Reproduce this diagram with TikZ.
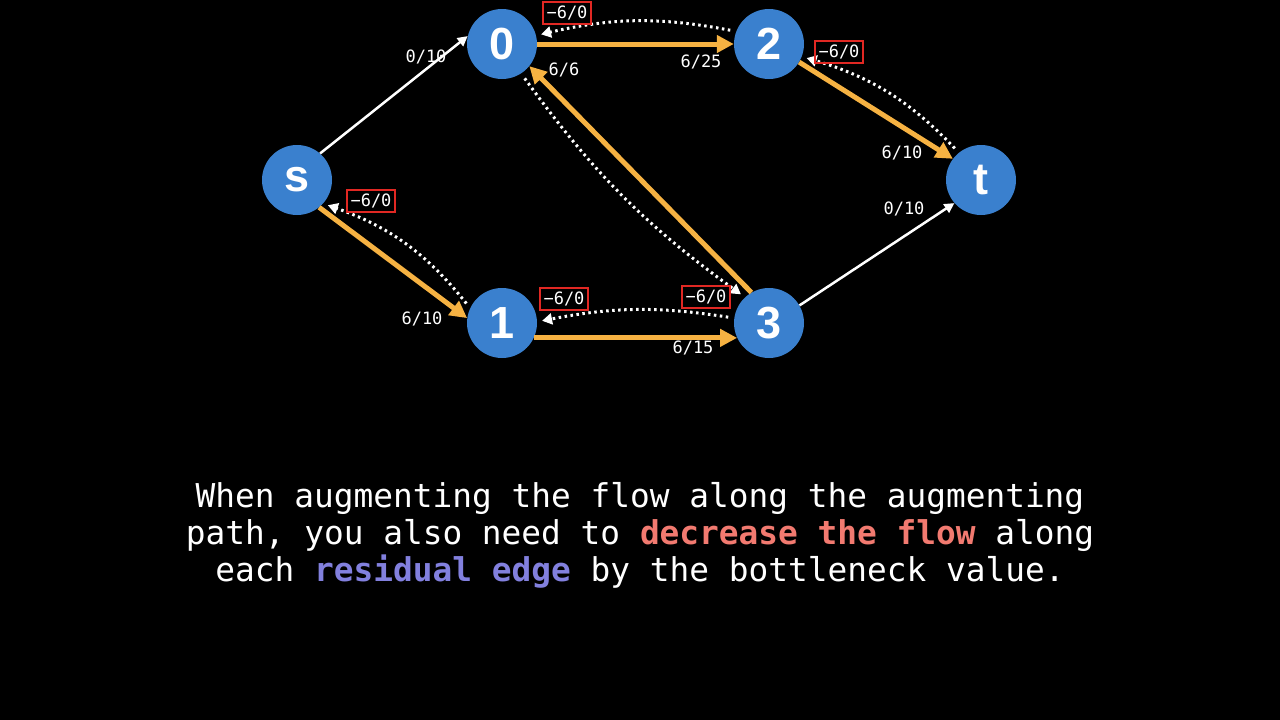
\documentclass[tikz,border=0pt]{standalone}
\usepackage{fontspec}
\newfontfamily\monofont{DejaVu Sans Mono}
\newfontfamily\nodefont{Liberation Sans}
\usetikzlibrary{arrows.meta}
\definecolor{nodeblue}{RGB}{58,128,206}
\definecolor{pathorange}{RGB}{246,178,66}
\definecolor{boxred}{RGB}{225,40,35}
\definecolor{textpink}{RGB}{242,122,112}
\definecolor{textpurple}{RGB}{130,128,222}

\begin{document}
\begin{tikzpicture}%
        [x=1pt, y=-1pt,
         vertex/.style={circle, fill=nodeblue, minimum size=70pt, inner sep=0pt,
                        text=white, font=\nodefont\bfseries\fontsize{45}{45}\selectfont},
         edge/.style={white, line width=2.5pt, -{Triangle[length=10pt,width=10pt]}},
         flow/.style={pathorange, line width=5pt, -{Triangle[length=17pt,width=17pt]}},
         resid/.style={white, line width=3pt, dash pattern=on 2.5pt off 3.5pt,
                       shorten <=6pt, shorten >=5pt, -{Triangle[length=10pt,width=11pt]}},
         lbl/.style={text=white, font=\monofont\fontsize{17}{17}\selectfont, inner sep=1pt},
         neglbl/.style={lbl, draw=boxred, line width=2pt, inner xsep=4pt, inner ysep=4pt},
         caption/.style={text=white, align=center,
                         font=\monofont\fontsize{32.8}{37}\selectfont}]
        \fill[black] (0,0) rectangle (1280,720);
        \useasboundingbox (0,0) rectangle (1280,720);

        \node[vertex] (s)  at (297,180) {s};
        \node[vertex] (v0) at (502,44)  {0};
        \node[vertex] (v2) at (769,44)  {2};
        \node[vertex] (t)  at (981,180) {t};
        \node[vertex] (v1) at (502,323) {1};
        \node[vertex] (v3) at (769,323) {3};

        % unused edges
        \draw[edge] (s.49) -- (v0.167);
        \draw[edge] (v3.30) -- (t.-139);

        % augmenting path
        \draw[flow] (s.-51) -- (v1.172);
        \draw[flow] (v1.-25) -- (v3.-155);
        \draw[flow] (v3.120) -- (v0.-39);
        \draw[flow] (v0.east) -- (v2.west);
        \draw[flow] (v2.-31) -- (t.143);

        % residual edges
        \draw[resid] (v1.155) to[bend right=16] (s.-42);
        \draw[resid] (v3.172) to[bend right=10] (v1.2);
        \draw[resid] (v0.-57) to[bend right=9] (v3.133);
        \draw[resid] (v2.159) to[bend right=12] (v0.14);
        \draw[resid] (t.129) to[bend right=15] (v2.-21);

        \node[lbl] (l-s0)  at (426,57)  {0/10};
        \node[lbl] (l-s1)  at (422,319) {6/10};
        \node[lbl] (l-13)  at (693,348) {6/15};
        \node[lbl] (l-30)  at (564,70)  {6/6};
        \node[lbl] (l-02)  at (701,62)  {6/25};
        \node[lbl] (l-2t)  at (902,153) {6/10};
        \node[lbl] (l-3t)  at (904,209) {0/10};

        \node[neglbl] (r-1s) at (371,201) {−6/0};
        \node[neglbl] (r-31) at (564,299) {−6/0};
        \node[neglbl] (r-03) at (706,297) {−6/0};
        \node[neglbl] (r-20) at (567,13)  {−6/0};
        \node[neglbl] (r-t2) at (839,52)  {−6/0};

        \node[caption] (msg) at (640,535)
            {When augmenting the flow along the augmenting\\
             path, you also need to \textcolor{textpink}{\bfseries decrease the flow} along\\
             each \textcolor{textpurple}{\bfseries residual edge} by the bottleneck value.};
\end{tikzpicture}
\end{document}
